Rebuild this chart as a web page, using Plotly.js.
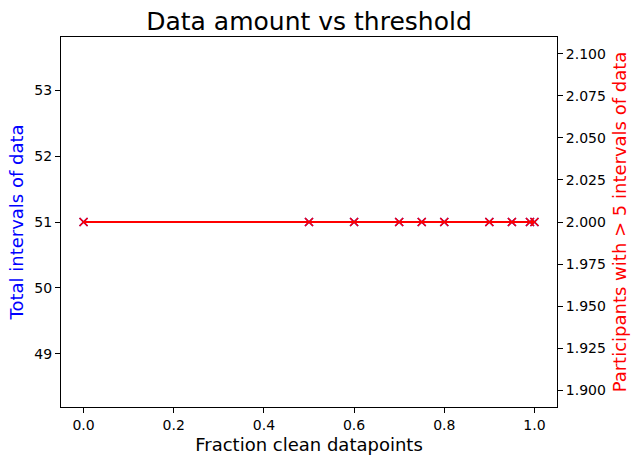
<!DOCTYPE html>
<html>
<head>
<meta charset="utf-8">
<script src="https://cdn.plot.ly/plotly-3.0.1.min.js"></script>
<style>
  html, body { margin: 0; padding: 0; background: #fff; }
  #chart { width: 639px; height: 464px; }
</style>
</head>
<body>
<div id="chart"></div>
<script>
// valores
var fraction = [0, 0.5, 0.6, 0.7, 0.75, 0.8, 0.9, 0.95, 0.99, 1.0];
var totalIntervals = [51, 51, 51, 51, 51, 51, 51, 51, 51, 51];
var participants = [2, 2, 2, 2, 2, 2, 2, 2, 2, 2];

var fonte = 'DejaVu Sans, sans-serif';

var traceTotal = {
    x: fraction,
    y: totalIntervals,
    type: 'scatter',
    mode: 'lines+markers',
    name: 'Total intervals',
    line: { color: 'blue', width: 1 },
    marker: { symbol: 'x-thin', size: 8, line: { color: 'blue', width: 1.5 } },
    yaxis: 'y'
};

var traceParticipants = {
    x: fraction,
    y: participants,
    type: 'scatter',
    mode: 'lines+markers',
    name: 'Participants',
    line: { color: 'red', width: 2 },
    marker: { symbol: 'x-thin', size: 8, line: { color: 'red', width: 1.5 } },
    yaxis: 'y2'
};

var eixoComum = {
    ticks: 'outside',
    ticklen: 5,
    tickwidth: 1,
    tickcolor: '#000',
    showline: true,
    linecolor: '#000',
    linewidth: 1,
    showgrid: false,
    zeroline: false,
    tickfont: { family: fonte, size: 14, color: '#000' }
};

var layout = {
    width: 639,
    height: 464,
    paper_bgcolor: '#fff',
    plot_bgcolor: '#fff',
    showlegend: false,
    margin: { l: 61, r: 82, t: 37, b: 57 },
    title: {
        text: 'Data amount vs threshold',
        font: { family: fonte, size: 25, color: '#000' },
        x: 0.4836,
        xanchor: 'center',
        y: 0.955,
        yanchor: 'middle'
    },
    xaxis: Object.assign({}, eixoComum, {
        range: [-0.05, 1.05],
        tickvals: [0, 0.2, 0.4, 0.6, 0.8, 1.0],
        ticktext: ['0.0', '0.2', '0.4', '0.6', '0.8', '1.0'],
        mirror: true,
        title: { text: 'Fraction clean datapoints', font: { family: fonte, size: 18, color: '#000' }, standoff: 6 }
    }),
    yaxis: Object.assign({}, eixoComum, {
        range: [48.195, 53.805],
        tickvals: [49, 50, 51, 52, 53],
        title: { text: 'Total intervals of data', font: { family: fonte, size: 18, color: 'blue' }, standoff: 6 }
    }),
    yaxis2: Object.assign({}, eixoComum, {
        overlaying: 'y',
        side: 'right',
        range: [1.89, 2.11],
        tickvals: [1.9, 1.925, 1.95, 1.975, 2.0, 2.025, 2.05, 2.075, 2.1],
        tickformat: '.3f',
        title: { text: 'Participants with > 5 intervals of data', font: { family: fonte, size: 18, color: 'red' }, standoff: 8 }
    })
};

Plotly.newPlot('chart', [traceTotal, traceParticipants], layout, { displayModeBar: false, staticPlot: true });
</script>
</body>
</html>
